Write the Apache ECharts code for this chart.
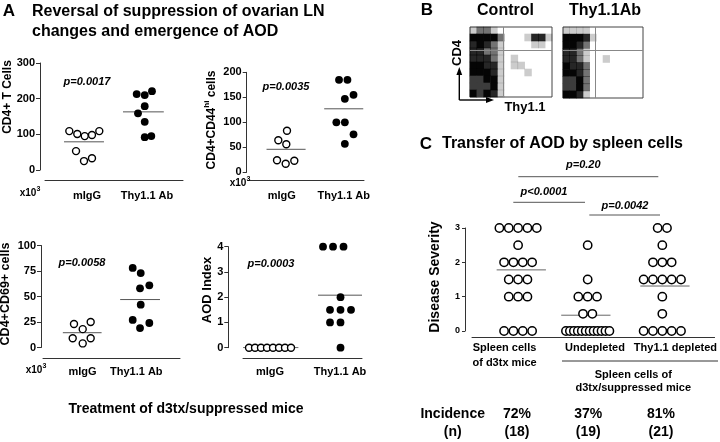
<!DOCTYPE html>
<html><head><meta charset="utf-8">
<script src="https://cdn.jsdelivr.net/npm/echarts@6/dist/echarts.min.js"></script>
<style>html,body{margin:0;padding:0;background:#fff}#c{width:720px;height:442px}</style>
</head><body><div id="c"></div>
<script>
// ---------- DATA ----------
const groupLabelsA = ['mIgG', 'Thy1.1 Ab'];

// A1: CD4+ T cells (x10^3)
const a1MigG  = [109, 101, 95, 98, 109, 53, 25, 33];
const a1MigGX = [0.705, 0.838, 0.962, 1.083, 1.205, 0.817, 0.95, 1.083];
const a1Thy   = [213, 210, 221, 179, 159, 135, 92, 95];
const a1ThyX  = [1.828, 1.962, 2.083, 1.962, 1.85, 1.962, 1.962, 2.072];
const a1Means = [79, 163];

// A2: CD4+CD44hi cells (x10^3)
const a2MigG  = [83, 64, 56, 24, 17, 23];
const a2MigGX = [1.085, 0.945, 1.074, 0.924, 1.064, 1.203];
const a2Thy   = [185, 185, 147, 155, 100, 100, 76, 57];
const a2ThyX  = [1.924, 2.06, 2.018, 2.158, 1.881, 2.018, 2.158, 2.018];
const a2Means = [46, 127];

// A3: CD4+CD69+ cells (x10^3)
const a3MigG  = [23, 18, 25, 9, 4, 9];
const a3MigGX = [0.842, 1.004, 1.152, 0.818, 1.004, 1.152];
const a3Thy   = [78, 73, 61, 58, 42, 27, 24, 19];
const a3ThyX  = [1.933, 2.082, 2.242, 2.069, 2.082, 1.933, 2.242, 2.069];
const a3Means = [14.5, 47];

// A4: AOD index
const a4MigG  = [0, 0, 0, 0, 0, 0, 0, 0];
const a4MigGX = [0.7, 0.786, 0.871, 0.957, 1.043, 1.129, 1.214, 1.3];
const a4Thy   = [4, 4, 4, 2, 1.5, 1.5, 1.5, 1, 1, 0];
const a4ThyX  = [1.757, 1.9, 2.05, 2.007, 1.857, 2.007, 2.157, 1.857, 2.007, 2.007];
const a4Means = [0, 2.08];

const pValuesA = ['p=0.0017', 'p=0.0035', 'p=0.0058', 'p=0.0003'];

// B: flow cytometry density (rows: CD4 high -> low, cols: Thy1.1 low -> high), 0..5
const flowControl = [
  [1,2,2,1,0,0,0,0,0,0,0,0],
  [4,4,4,4,2,0,0,0,1,3,3,1],
  [3,4,3,2,1,0,0,0,0,1,1,0],
  [3,3,2,2,1,0,0,0,0,0,0,0],
  [3,3,3,2,1,0,1,0,0,0,0,0],
  [4,4,3,3,1,0,1,1,0,0,0,0],
  [4,4,4,3,1,0,0,0,1,0,0,0],
  [5,5,4,4,1,0,0,0,0,0,0,0],
  [5,5,5,4,1,0,0,0,0,0,0,0],
  [4,5,4,3,1,0,0,0,0,0,0,0]
];
const flowThyAb = [
  [1,1,1,1,0,0,0,0,0,0,0,0],
  [4,4,4,3,1,0,0,0,0,0,0,0],
  [4,4,3,2,0,0,0,0,0,0,0,0],
  [3,3,2,1,0,0,0,0,0,0,0,0],
  [3,3,2,1,0,0,1,0,0,0,0,0],
  [4,3,3,2,0,0,0,0,0,0,0,0],
  [4,4,3,2,0,0,0,0,0,0,0,0],
  [5,5,4,2,0,0,0,0,0,0,0,0],
  [5,5,4,2,0,0,0,0,0,0,0,0],
  [4,4,3,1,0,0,0,0,0,0,0,0]
];
const flowGate = [1.62, 2.67]; // [Thy1.1 gate, CD4 gate] in decades

// C: disease severity per mouse
const cCategories = ['Spleen cells\nof d3tx mice', 'Undepleted', 'Thy1.1 depleted'];
const cSpleen     = [3,3,3,3,3,2.5,2,2,2,2,1.5,1.5,1.5,1,1,1,0,0,0,0];
const cUndepleted = [2.5,1.5,1,1,1,0.5,0.5,0,0,0,0,0,0,0,0,0,0,0,0];
const cDepleted   = [3,3,2.5,2,2,2,1.5,1.5,1.5,1.5,1.5,1,0.5,0,0,0,0,0];
const cMeans      = [1.78, 0.46, 1.31];
const cPValues    = ['p=0.20', 'p<0.0001', 'p=0.0042'];
const cIncidence  = ['72%', '37%', '81%'];
const cN          = ['(18)', '(19)', '(21)'];

// ---------- LAYOUT / STYLE ----------
const FONT = '"Liberation Sans", Arial, Helvetica, sans-serif';
const INK = '#000';
const AX = '#333';

const grids = [], xAxes = [], yAxes = [], series = [];

function addAPanel(cfg) {
  const gi = grids.length;
  grids.push({left: cfg.left, top: cfg.top, width: cfg.width, height: cfg.height});
  xAxes.push({
    gridIndex: gi, type: 'value', min: cfg.xMin, max: cfg.xMax, offset: cfg.xOffset,
    axisLine: {show: true, onZero: false, lineStyle: {color: AX, width: 1}},
    axisTick: {show: false}, splitLine: {show: false},
    axisLabel: {customValues: [1, 2], formatter: v => groupLabelsA[v < 1.5 ? 0 : 1],
      fontFamily: FONT, fontWeight: 'bold', fontSize: 11, color: INK, margin: cfg.labelMargin}
  });
  yAxes.push({
    gridIndex: gi, type: 'value', min: cfg.yMin, max: cfg.yMax, interval: cfg.yInterval, offset: cfg.yOffset,
    axisLine: {show: true, onZero: false, lineStyle: {color: AX, width: 1}},
    axisTick: {show: true, length: 4, lineStyle: {color: AX}},
    splitLine: {show: false},
    axisLabel: {fontFamily: FONT, fontWeight: 'bold', fontSize: 11, color: INK, margin: 5}
  });
  cfg.means.forEach((m, k) => {
    const c = cfg.meanCenters[k], hw = cfg.meanHalf[k];
    series.push({type: 'line', xAxisIndex: gi, yAxisIndex: gi, data: [[c - hw, m], [c + hw, m]],
      symbol: 'none', lineStyle: {color: '#555', width: 1}, z: 2, silent: true});
  });
  series.push({type: 'scatter', xAxisIndex: gi, yAxisIndex: gi, clip: false,
    data: cfg.open.map((v, i) => [cfg.openX[i], v]), symbol: 'circle', symbolSize: 7,
    itemStyle: {color: '#fff', borderColor: INK, borderWidth: 1.4, opacity: 1}, z: 3});
  series.push({type: 'scatter', xAxisIndex: gi, yAxisIndex: gi, clip: false,
    data: cfg.filled.map((v, i) => [cfg.filledX[i], v]), symbol: 'circle', symbolSize: 7.8,
    itemStyle: {color: INK, opacity: 1}, z: 3});
}

addAPanel({left: 45, top: 63, width: 138, height: 107, yMin: 0, yMax: 300, yInterval: 100, yOffset: 5,
  xMin: 0.3, xMax: 2.6, xOffset: 10, labelMargin: 10,
  open: a1MigG, openX: a1MigGX, filled: a1Thy, filledX: a1ThyX,
  means: a1Means, meanCenters: [0.95, 1.94], meanHalf: [0.333, 0.34]});
addAPanel({left: 248, top: 72.3, width: 116, height: 100, yMin: 0, yMax: 200, yInterval: 50, yOffset: 1.3,
  xMin: 0.456, xMax: 2.327, xOffset: 8.4, labelMargin: 10,
  open: a2MigG, openX: a2MigGX, filled: a2Thy, filledX: a2ThyX,
  means: a2Means, meanCenters: [1.07, 2.0], meanHalf: [0.315, 0.315]});
addAPanel({left: 43, top: 245.5, width: 137, height: 102, yMin: 0, yMax: 100, yInterval: 25, yOffset: 2,
  xMin: 0.266, xMax: 2.812, xOffset: 10.8, labelMargin: 8,
  open: a3MigG, openX: a3MigGX, filled: a3Thy, filledX: a3ThyX,
  means: a3Means, meanCenters: [0.995, 2.07], meanHalf: [0.36, 0.37]});
addAPanel({left: 243, top: 246.7, width: 119, height: 101, yMin: 0, yMax: 4, yInterval: 1, yOffset: 14.7,
  xMin: 0.614, xMax: 2.314, xOffset: 10.6, labelMargin: 8,
  open: a4MigG, openX: a4MigGX, filled: a4Thy, filledX: a4ThyX,
  means: a4Means, meanCenters: [1.01, 2.0], meanHalf: [0.395, 0.314]});

// ---- Panel C ----
(function () {
  const gi = grids.length;
  grids.push({left: 472, top: 228, width: 246, height: 103});
  const labelPos = [0.823, 2.071, 3.181];
  xAxes.push({
    gridIndex: gi, type: 'value', min: 0.374, max: 3.721, offset: 6.7,
    axisLine: {show: true, onZero: false, lineStyle: {color: AX, width: 1}},
    axisTick: {show: false}, splitLine: {show: false},
    axisLabel: {customValues: labelPos, formatter: v => {
        let best = 0; labelPos.forEach((p, i) => { if (Math.abs(p - v) < Math.abs(labelPos[best] - v)) best = i; });
        return cCategories[best];
      }, fontFamily: FONT, fontWeight: 'bold', fontSize: 11, lineHeight: 15, color: INK, margin: 3}
  });
  yAxes.push({
    gridIndex: gi, type: 'value', min: 0, max: 3, interval: 1, offset: 7,
    axisLine: {show: true, onZero: false, lineStyle: {color: AX, width: 1}},
    axisTick: {show: true, length: 3, lineStyle: {color: AX}},
    splitLine: {show: false},
    axisLabel: {fontFamily: FONT, fontWeight: 'bold', fontSize: 9, color: INK, margin: 5}
  });
  const centers = [1.01, 1.97, 3.0];
  const meanCenters = [1.054, 1.945, 3.036];
  const pitch = 0.129, maxSpan = 0.6;
  function rows(values, center) {
    const counts = {}, seen = {};
    values.forEach(v => counts[v] = (counts[v] || 0) + 1);
    return values.map(v => {
      const n = counts[v]; const i = seen[v] || 0; seen[v] = i + 1;
      const p = n > 1 ? Math.min(pitch, maxSpan / (n - 1)) : 0;
      return [center + (i - (n - 1) / 2) * p, v];
    });
  }
  [cSpleen, cUndepleted, cDepleted].forEach((vals, k) => {
    series.push({type: 'line', xAxisIndex: gi, yAxisIndex: gi,
      data: [[meanCenters[k] - 0.34, cMeans[k]], [meanCenters[k] + 0.34, cMeans[k]]],
      symbol: 'none', lineStyle: {color: '#666', width: 1}, z: 2, silent: true});
    series.push({type: 'scatter', xAxisIndex: gi, yAxisIndex: gi, clip: false,
      data: rows(vals, centers[k]), symbol: 'circle', symbolSize: 8.3,
      itemStyle: {color: '#fff', borderColor: INK, borderWidth: 1.5, opacity: 1}, z: 3});
  });
})();

// ---- Panel B flow plots ----
const flowColors = ['rgba(0,0,0,0)', 'rgba(0,0,0,0.2)', 'rgba(0,0,0,0.55)', 'rgba(0,0,0,0.85)', '#050505', '#3c3c3c'];
function addFlow(mat, box) {
  const gi = grids.length;
  grids.push({left: box.left, top: box.top, width: box.width, height: box.height,
    show: true, borderColor: '#444', borderWidth: 1, backgroundColor: 'rgba(0,0,0,0)'});
  xAxes.push({gridIndex: gi, type: 'value', min: 0, max: 4, show: false});
  yAxes.push({gridIndex: gi, type: 'value', min: 0, max: 4, show: false});
  const nr = mat.length, nc = mat[0].length, data = [];
  mat.forEach((row, r) => row.forEach((v, c) => {
    if (v > 0) data.push([(c + 0.5) / nc * 4, 4 - (r + 0.5) / nr * 4, v]);
  }));
  series.push({type: 'scatter', xAxisIndex: gi, yAxisIndex: gi, data,
    symbol: 'rect', symbolSize: [box.width / nc + 0.6, box.height / nr + 0.6],
    itemStyle: {color: p => flowColors[p.value[2]], opacity: 1}, z: 2, silent: true,
    markLine: {silent: true, symbol: 'none', label: {show: false},
      lineStyle: {color: '#888', width: 1, type: 'solid'},
      data: [{xAxis: flowGate[0]}, {yAxis: flowGate[1]}]}});
}
addFlow(flowControl, {left: 470, top: 27, width: 82, height: 70});
addFlow(flowThyAb, {left: 563, top: 27, width: 80, height: 71});

// ---------- TEXT & DECORATIONS ----------
function txt(x, y, text, size, o = {}) {
  return {type: 'text', x, y, rotation: o.rot || 0, silent: true, z: 10,
    style: {text, fontFamily: FONT, fontWeight: 'bold', fontStyle: o.italic ? 'italic' : 'normal',
      fontSize: size, fill: INK, align: o.align || 'center', verticalAlign: 'middle', rich: o.rich}};
}
const R90 = Math.PI / 2;
const supRich = (a, s) => ({a: {fontFamily: FONT, fontWeight: 'bold', fontSize: a, lineHeight: a + 3, fill: INK, verticalAlign: 'bottom'},
                            s: {fontFamily: FONT, fontWeight: 'bold', fontSize: s, lineHeight: s, fill: INK, verticalAlign: 'top'}});
const hline = (x1, x2, y, color = '#555', w = 1) => ({type: 'line', silent: true, z: 10,
  shape: {x1, y1: y, x2, y2: y}, style: {stroke: color, lineWidth: w}});

const graphics = [
  txt(9, 11, 'A', 17),
  txt(32, 12, 'Reversal of suppression of ovarian LN', 16, {align: 'left'}),
  txt(32, 32, 'changes and emergence of AOD', 16, {align: 'left'}),
  txt(87, 82, pValuesA[0], 11, {italic: true}),
  txt(286, 87, pValuesA[1], 11, {italic: true}),
  txt(82, 263, pValuesA[2], 11, {italic: true}),
  txt(271, 264, pValuesA[3], 11, {italic: true}),
  txt(8, 97, 'CD4+ T Cells', 12, {rot: R90}),
  txt(210, 120, '{a|CD4+CD44}{s|hi}{a| cells}', 12, {rot: R90, rich: supRich(12, 8)}),
  txt(6, 294, 'CD4+CD69+ cells', 12.5, {rot: R90}),
  txt(207, 290, 'AOD Index', 13, {rot: R90}),
  txt(30, 192, '{a|x10}{s|3}', 10, {rich: supRich(10, 7)}),
  txt(240, 182, '{a|x10}{s|3}', 10, {rich: supRich(10, 7)}),
  txt(36, 369, '{a|x10}{s|3}', 10, {rich: supRich(10, 7)}),
  txt(186, 409, 'Treatment of d3tx/suppressed mice', 14),
  txt(427, 10, 'B', 17),
  txt(505.5, 11, 'Control', 16),
  txt(605, 11, 'Thy1.1Ab', 16),
  txt(457, 53, 'CD4', 13, {rot: R90}),
  txt(525, 107, 'Thy1.1', 13),
  {type: 'line', silent: true, shape: {x1: 459.3, y1: 100, x2: 459.3, y2: 73}, style: {stroke: INK, lineWidth: 1.4}},
  {type: 'polygon', silent: true, shape: {points: [[459.3, 67], [456.4, 75], [462.2, 75]]}, style: {fill: INK}},
  {type: 'line', silent: true, shape: {x1: 459.3, y1: 100, x2: 488, y2: 100}, style: {stroke: INK, lineWidth: 1.4}},
  {type: 'polygon', silent: true, shape: {points: [[494, 100], [486, 97.1], [486, 102.9]]}, style: {fill: INK}},
  txt(426, 144, 'C', 17),
  txt(442, 144, 'Transfer of AOD by spleen cells', 16, {align: 'left'}),
  hline(518.3, 658.3, 176.7), txt(583.3, 165, cPValues[0], 11, {italic: true}),
  hline(513.3, 585, 202.3), txt(544, 191.7, cPValues[1], 11, {italic: true}),
  hline(589.3, 660, 215), txt(625, 206, cPValues[2], 11, {italic: true}),
  txt(435, 277, 'Disease Severity', 14, {rot: R90}),
  hline(562, 718, 361, '#333', 1),
  txt(633.3, 375, 'Spleen cells of', 11),
  txt(633.3, 388.3, 'd3tx/suppressed mice', 11),
  txt(452.7, 414, 'Incidence', 14),
  txt(452.7, 432, '(n)', 14)
];
const colX = [517, 588.3, 661];
cIncidence.forEach((s, i) => graphics.push(txt(colX[i], 414, s, 14)));
cN.forEach((s, i) => graphics.push(txt(colX[i], 432, s, 14)));

const chart = echarts.init(document.getElementById('c'), null, {renderer: 'canvas'});
chart.setOption({
  animation: false,
  backgroundColor: '#fff',
  grid: grids, xAxis: xAxes, yAxis: yAxes, series,
  graphic: graphics
});
</script></body></html>
